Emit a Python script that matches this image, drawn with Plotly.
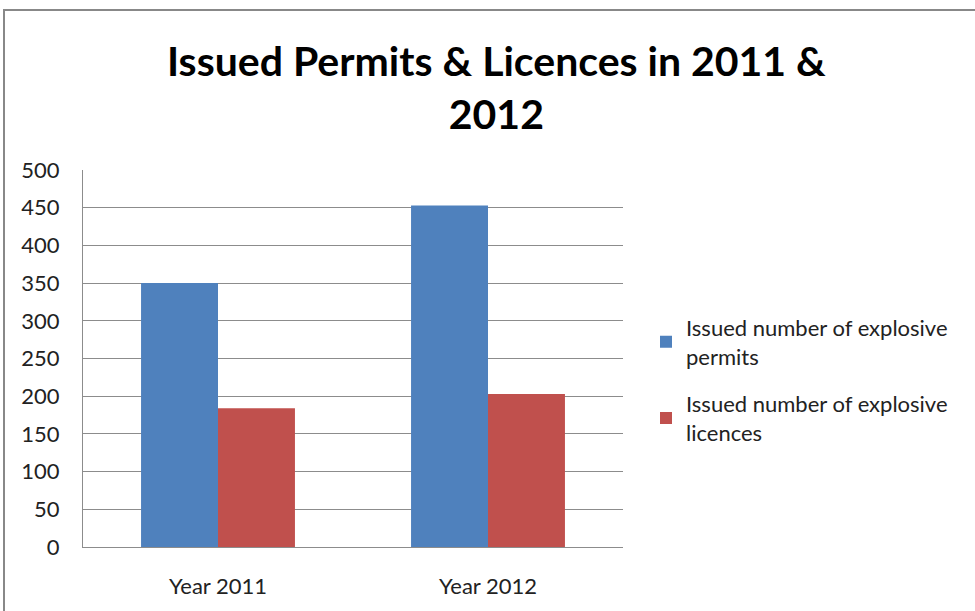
import plotly.graph_objects as go

categories = ["Year 2011", "Year 2012"]
permits = [350, 453]
licences = [184, 203]
series_names = ["Issued number of explosive<br>permits", "Issued number of explosive<br>licences"]
y_ticks = [0, 50, 100, 150, 200, 250, 300, 350, 400, 450, 500]
title_text = "<b>Issued Permits & Licences in 2011 &<br>2012</b>"

W, H = 975, 611
L, R, T, B = 83, 352, 170, 57
PW, PH = W - L - R, H - T - B

fig = go.Figure()
fig.add_trace(go.Bar(x=categories, y=permits, name=series_names[0], legendgroup="permits",
                     marker=dict(color="#4F81BD", line=dict(width=0))))
fig.add_trace(go.Bar(x=categories, y=licences, name=series_names[1], legendgroup="licences",
                     marker=dict(color="#C0504D", line=dict(width=0))))

fig.update_layout(
    width=W, height=H,
    margin=dict(l=L, r=R, t=T, b=B),
    paper_bgcolor="white", plot_bgcolor="white",
    barmode="group", bargap=0.43, bargroupgap=0,
    font=dict(family="Lato", size=22, color="#222222"),
    legend=dict(x=(646 - L) / PW, xanchor="left",
                y=(554 - 384) / PH, yanchor="middle",
                font=dict(family="Lato", size=22, color="#222222"),
                tracegroupgap=16, itemwidth=30, bgcolor="rgba(0,0,0,0)"),
    showlegend=True,
)
fig.add_annotation(text=title_text, xref="paper", yref="paper",
                   x=(496 - L) / PW, xanchor="center",
                   y=1 + (T - 85) / PH, yanchor="middle",
                   showarrow=False, font=dict(family="Lato", size=41, color="black"))
fig.update_xaxes(showline=True, linecolor="#8c8c8c", linewidth=1,
                 showgrid=False, ticks="", ticklabelstandoff=20)
fig.update_yaxes(range=[0, 500], tickvals=y_ticks, showgrid=True,
                 gridcolor="#8c8c8c", gridwidth=1, showline=True,
                 linecolor="#8c8c8c", linewidth=1, ticks="",
                 ticklabelstandoff=18, zeroline=False)

fig.add_shape(type="rect", xref="paper", yref="paper",
              x0=(4 - L) / PW, x1=(W + 20 - L) / PW,
              y0=-(B + 20) / PH, y1=1 + (T - 7) / PH,
              line=dict(color="#888888", width=2), fillcolor="rgba(0,0,0,0)",
              layer="below")

fig.write_html("out.html", config={"displayModeBar": False},
               post_script="document.body.style.margin='0';")
